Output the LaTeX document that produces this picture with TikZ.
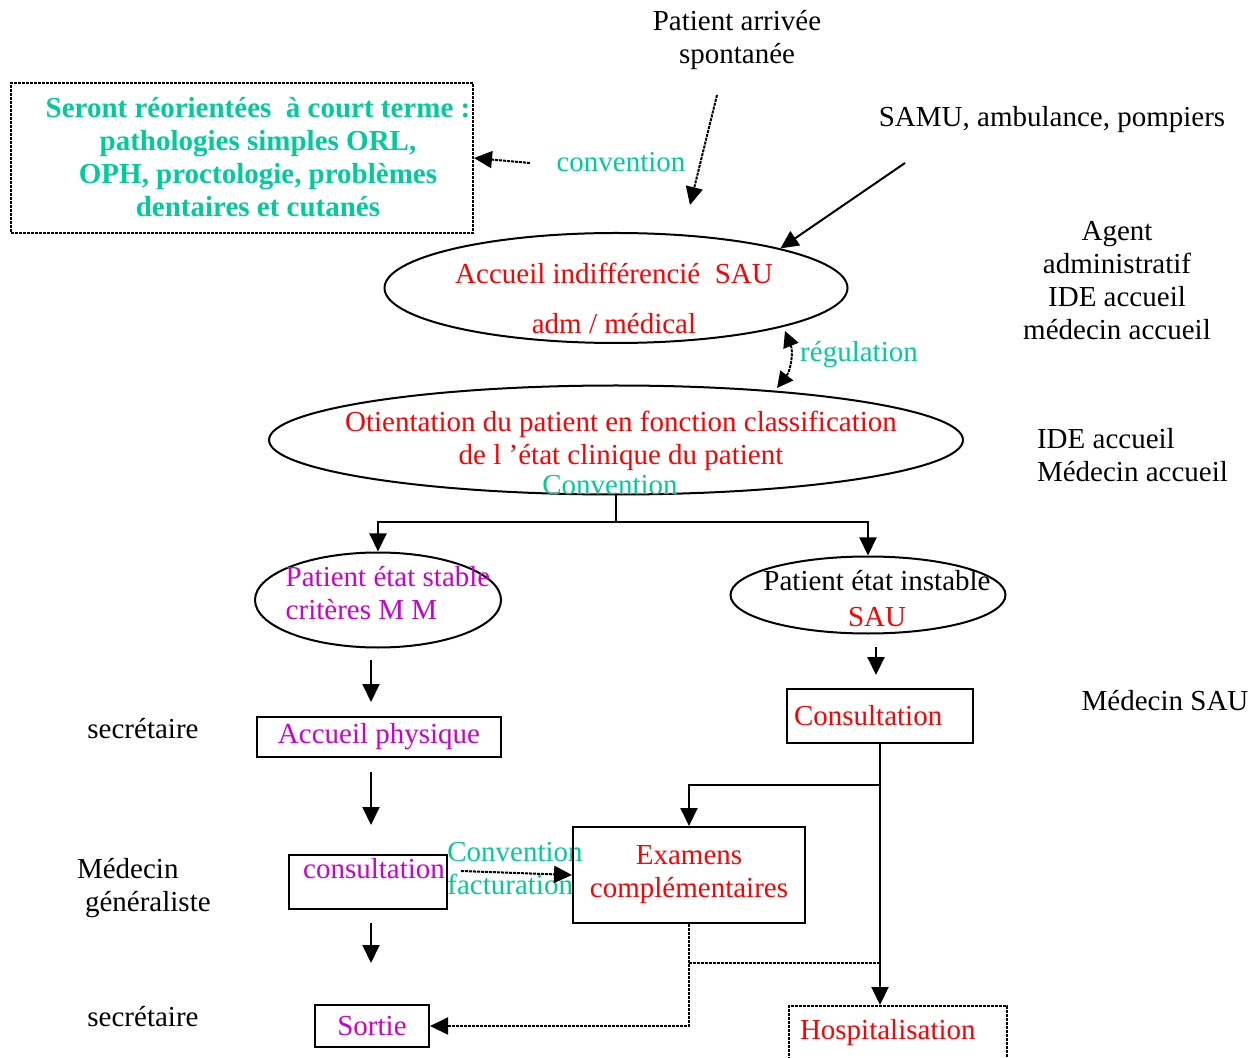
\documentclass[tikz,border=0pt]{standalone}
\usepackage{fontspec}
\setmainfont{Liberation Serif}
\usetikzlibrary{arrows.meta,shapes.geometric}
\definecolor{convgreen}{RGB}{0,204,153}
\definecolor{patmag}{RGB}{204,0,204}

\begin{document}
\begin{tikzpicture}[x=0.5pt,y=-0.5pt,
  font=\fontsize{14.5}{16.5}\selectfont,
  ell/.style={draw,ellipse,line width=1pt,inner sep=0pt},
  box/.style={draw,rectangle,line width=1pt,inner sep=0pt},
  arr/.style={line width=1pt,-{Triangle[length=9pt,width=8.5pt]}},
  arrboth/.style={line width=1pt,{Triangle[length=8pt,width=8pt]}-{Triangle[length=8pt,width=8pt]}},
  dsh/.style={line width=1pt,dash pattern=on 1.5pt off 0.5pt},
  grn/.style={text=convgreen},
  mag/.style={text=patmag},
  rouge/.style={text=red}]
\useasboundingbox (0,0) rectangle (1252,1058);
\clip (0,0) rectangle (1252,1058);

% arrivees
\node[align=center] (spont) at (737,40) {Patient arrivée\\spontanée};
\node (samu) at (1052,120) {SAMU, ambulance, pompiers};
\coordinate (spont-from) at (717,95);
\coordinate (spont-to) at (690,205);
\coordinate (samu-from) at (905,163);

% reorientation
\node[box,dsh,minimum width=231pt,minimum height=75pt] (reorient) at (242,158) {};
\node[align=center,grn,font=\fontsize{14.5}{16.5}\selectfont\bfseries] (reorient-txt) at (258,157)
  {Seront réorientées\ \ à court terme :\\pathologies simples ORL,\\OPH, proctologie, problèmes\\dentaires et cutanés};
\node[grn] (conv1) at (621,162) {convention};
\coordinate (conv1-from) at (530,163);

% accueil
\node[ell,minimum width=231.5pt,minimum height=55pt] (accueil) at (616,288) {};
\node[rouge,align=center] (accueil-txt) at (614,298) {Accueil indifférencié\ \ SAU\\[8.5pt]adm / médical};
\coordinate (reg-top) at (785,331);
\coordinate (reg-bot) at (777,388);
\node[grn] (regul) at (859,355) {régulation};
\node[align=center] (staff1) at (1117,281) {Agent\\administratif\\IDE accueil\\médecin accueil};

% orientation
\node[ell,minimum width=347pt,minimum height=54.5pt] (orient) at (616,440) {};
\node[rouge,align=center] (orient-txt) at (621,441) {Otientation du patient en fonction classification\\de l ’état clinique du patient};
\node[grn] (conv2) at (610,485) {Convention};
\node[align=left,anchor=west] (staff2) at (1030,455) {IDE accueil\\Médecin accueil};
\coordinate (split) at (616,522);

% branches
\node[ell,minimum width=123pt,minimum height=47.5pt] (stable) at (378,600) {};
\node[mag,align=left] (stable-txt) at (388,593) {Patient état stable\\critères M M};
\node[ell,minimum width=137.5pt,minimum height=38.5pt] (instable) at (868,595) {};
\node[align=center] (instable-txt) at (877,599) {Patient état instable\\[1.5pt]\textcolor{red}{SAU}};
\coordinate (s1) at (371,660);
\coordinate (s2) at (371,702);
\coordinate (i1) at (876,647);
\coordinate (i2) at (876,675);

% stable
\node (secr1) at (143,729) {secrétaire};
\node[box,mag,minimum width=122pt,minimum height=20pt] (physique) at (379,737) {Accueil physique};
\coordinate (p1) at (371,772);
\coordinate (p2) at (371,825);
\node[align=left,anchor=west] (medgen) at (70,888) {Médecin\\\hspace*{4pt}généraliste};
\node[box,mag,minimum width=79pt,text height=10pt,text depth=14pt,inner ysep=1.5pt] (consMG) at (368,882) {\hspace*{6pt}consultation};
\node[grn,align=left,anchor=west,inner sep=0pt] (convfact) at (447,869) {Convention\\facturation};
\coordinate (m1) at (371,923);
\coordinate (m2) at (371,963);
\node (secr2) at (143,1017) {secrétaire};
\node[box,mag,minimum width=57pt,minimum height=21pt] (sortie) at (372,1026) {Sortie};

% instable
\node[box,rouge,text width=86pt,inner xsep=3.5pt,minimum height=27pt,align=left] (consSAU) at (880,716) {Consultation};
\node (medSAU) at (1165,701) {Médecin SAU};
\coordinate (sau-split) at (consSAU.south |- 0,785);
\node[box,rouge,align=center,minimum width=116pt,minimum height=48pt] (exam) at (689,875) {Examens\\complémentaires};
\node[box,dsh,rouge,anchor=north,text width=98pt,inner xsep=5.5pt,inner ysep=0pt,
  text height=16.5pt,text depth=20pt,align=left] (hosp) at (898,1005) {Hospitalisation};
\coordinate (ex-join) at (689,963);

% connecteurs
\draw[arr,dsh] (spont-from) -- (spont-to);
\draw[arr] (samu-from) -- (accueil.north east);
\draw[arr,dsh] (conv1-from) -- (reorient.east);
\draw[arrboth,dsh] (reg-top) to[bend left=30] (reg-bot);
\draw[arr] (orient.south) -- (split) -| (stable.north);
\draw[arr] (split) -| (instable.north);
\draw[arr] (s1) -- (s2);
\draw[arr] (i1) -- (i2);
\draw[arr] (p1) -- (p2);
\draw[arr] (m1) -- (m2);
\draw[arr,dsh] ([xshift=6.5pt,yshift=5.5pt]consMG.east) -- (exam.west);
\draw[arr] (consSAU.south) -- (sau-split) -| (exam.north);
\draw[arr] (sau-split) -- (sau-split |- hosp.north);
\draw[arr,dsh] (exam.south) |- (sortie.east);
\draw[dsh] (ex-join) -- (ex-join -| sau-split);

\end{tikzpicture}
\end{document}
